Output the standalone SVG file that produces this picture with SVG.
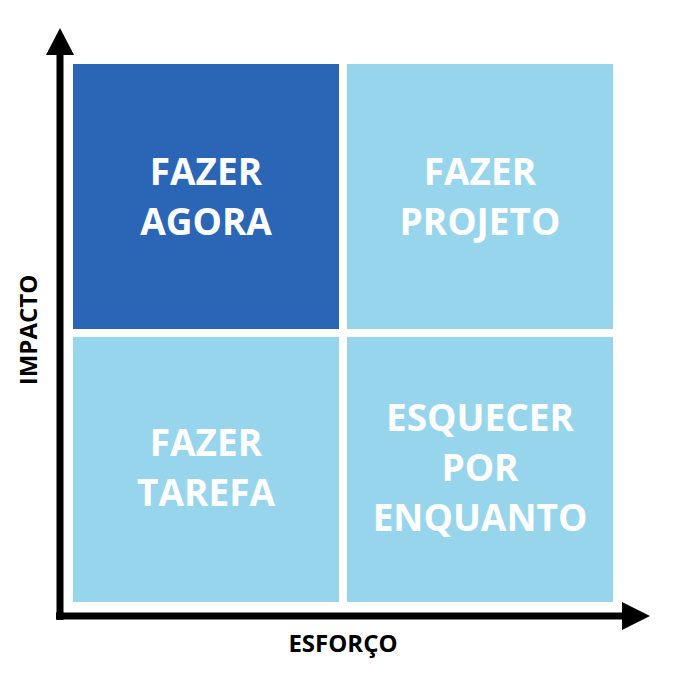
<svg xmlns="http://www.w3.org/2000/svg" width="676" height="679" viewBox="0 0 676 679">
<style>
.q{fill:#97D5EC}
.t{font-family:"Open Sans","Noto Sans",sans-serif;font-weight:bold;font-size:37px;fill:#fff;text-anchor:middle}
.a{font-family:"Open Sans","Noto Sans",sans-serif;font-weight:bold;font-size:24px;fill:#000;text-anchor:middle}
</style>
<rect width="676" height="679" fill="#fff"/>
<g id="connectors">
<line x1="60" y1="50" x2="60" y2="620" stroke="#000" stroke-width="7"/>
<polygon points="60,28 46,55 74,55" fill="#000"/>
<line x1="56" y1="616" x2="625" y2="616" stroke="#000" stroke-width="7"/>
<polygon points="650,616 622,602 622,630" fill="#000"/>
</g>
<g id="fazer-agora"><rect x="73" y="64" width="266" height="265" fill="#2B65B5"/>
<text class="t" x="206" y="185">FAZER</text><text class="t" x="206" y="235">AGORA</text></g>
<g id="fazer-projeto"><rect class="q" x="347" y="64" width="266" height="265"/>
<text class="t" x="480" y="185">FAZER</text><text class="t" x="480" y="235">PROJETO</text></g>
<g id="fazer-tarefa"><rect class="q" x="73" y="337" width="266" height="265"/>
<text class="t" x="206" y="456">FAZER</text><text class="t" x="206" y="506">TAREFA</text></g>
<g id="esquecer"><rect class="q" x="347" y="337" width="266" height="265"/>
<text class="t" x="480" y="431">ESQUECER</text><text class="t" x="480" y="481">POR</text><text class="t" x="480" y="531">ENQUANTO</text></g>
<g id="labels">
<text class="a" transform="translate(37,330) rotate(-90)">IMPACTO</text>
<text class="a" x="343" y="652">ESFORÇO</text>
</g>
</svg>
